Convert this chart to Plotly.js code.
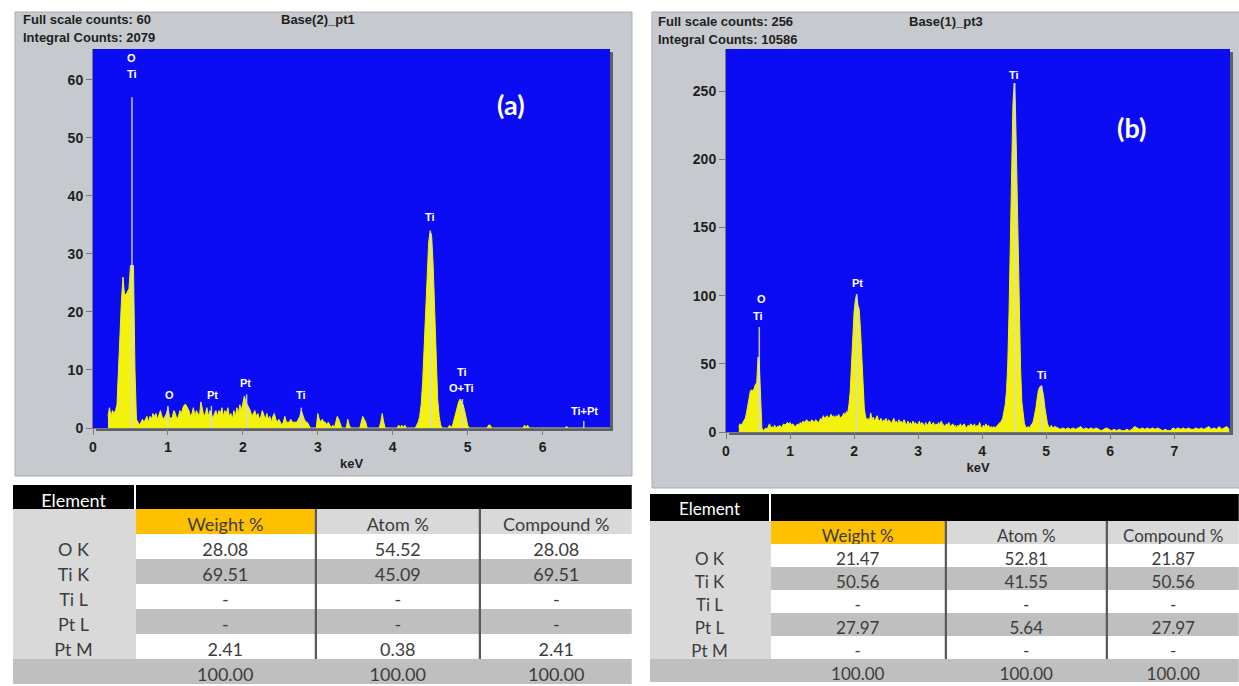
<!DOCTYPE html>
<html>
<head>
<meta charset="utf-8">
<script src="https://cdn.plot.ly/plotly-3.0.1.min.js"></script>
<style>html,body{margin:0;padding:0;background:#fff;}#chart{width:1239px;height:686px;}</style>
</head>
<body>
<div id="chart"></div>
<script>
// ---------------- DATA ----------------
// Spectrum (a): energy in keV, counts
const energyA = [
0.20,0.22,0.24,0.26,0.28,0.30,0.32,0.34,0.36,0.38,
0.40,0.42,0.44,0.46,0.48,0.50,0.52,0.54,0.56,0.58,
0.60,0.62,0.64,0.66,0.68,0.70,0.72,0.74,0.76,0.78,
0.80,0.82,0.84,0.86,0.88,0.90,0.92,0.94,0.96,0.98,
1.00,1.02,1.04,1.06,1.08,1.10,1.12,1.14,1.16,1.18,
1.20,1.22,1.24,1.26,1.28,1.30,1.32,1.34,1.36,1.38,
1.40,1.42,1.44,1.46,1.48,1.50,1.52,1.54,1.56,1.58,
1.60,1.62,1.64,1.66,1.68,1.70,1.72,1.74,1.76,1.78,
1.80,1.82,1.84,1.86,1.88,1.90,1.92,1.94,1.96,1.98,
2.00,2.02,2.04,2.06,2.08,2.10,2.12,2.14,2.16,2.18,
2.20,2.22,2.24,2.26,2.28,2.30,2.32,2.34,2.36,2.38,
2.40,2.42,2.44,2.46,2.48,2.50,2.52,2.54,2.56,2.58,
2.60,2.62,2.64,2.66,2.68,2.70,2.72,2.74,2.76,2.78,
2.80,2.82,2.84,2.86,2.88,2.90,
2.98,3.00,3.02,3.04,3.06,3.08,3.10,3.12,3.14,3.16,3.18,3.20,3.22,3.24,3.26,3.28,3.30,3.32,
3.38,3.40,3.42,3.44,
3.56,3.58,3.60,3.62,3.64,3.66,
3.82,3.84,3.86,3.88,3.90,
4.06,4.08,4.10,4.12,4.14,4.16,4.18,
4.30,4.32,4.34,4.36,4.38,4.40,4.42,4.44,4.46,4.48,4.50,4.52,4.54,4.56,4.58,4.60,4.62,4.64,4.66,
4.74,4.76,4.78,4.80,4.82,4.84,4.86,4.88,4.90,4.92,4.94,4.96,4.98,5.00,5.02,
5.26,5.28,5.30,5.32,
5.74,5.76,5.78,5.80,5.82,
6.30,6.32,6.34,
6.90];
const countsA = [
2,3.5,2,3,2.5,3,4,10,18,22,
26,23,23,23.5,24,28,28,28,10,1.5,
1,0.5,1,1.5,1,1.5,2,1,2,1.5,
2.5,2,2.5,1.5,2.5,3,2,1.5,2,2.5,
3.5,2,1.5,2,3,2.5,1.5,2,3,2.5,
3.5,4,4,3.5,3,2,2.5,3.5,2,3,
2.5,2,4.5,3,2,2.5,3.5,2,3,2.5,
1.5,2.5,3,2,3,2.5,3.5,2,3,2.5,
3.5,2,2.5,1.5,3,2,3.5,2.5,4,3,
4,5.5,4.5,4,3.5,3,2,2.5,3,2,
2.5,1.5,2,3,2,1.5,2.5,1.5,2,1,
2,2.5,1.5,1,1.5,1,0.5,1,2,1,
1,1,1.5,1,1,1,1,1.5,2,3,
2,1.5,1,1,0.5,0,
0,2.5,1.5,1,1.5,1,1,0.5,1,0.5,0,0.5,0,1,2,1.5,0.5,0,
0,1.5,0.5,0,
0,1,2,1.5,1,0,
0,1,2.5,1,0,
0,0.5,0,0.5,0,0.5,0,
0,0.5,1,2,4,8,14,21,27,32,34,33,28,20,11,5,2,0.5,0,
0,0.5,0,0.5,1.5,3,4,4.5,5,4.5,4,3,1.5,0.5,0,
0,0.5,0.5,0,
0,0.5,0,0.5,0,
0,0.3,0,
0];

// Spectrum (b)
const energyB = [
0.20,0.22,0.24,0.26,0.28,0.30,0.32,0.34,0.36,0.38,
0.40,0.42,0.44,0.46,0.48,0.50,0.52,0.54,0.56,0.58,
0.60,0.62,0.64,0.66,0.68,0.70,0.72,0.74,0.76,0.78,
0.80,0.82,0.84,0.86,0.88,0.90,0.92,0.94,0.96,0.98,
1.00,1.02,1.04,1.06,1.08,1.10,1.12,1.14,1.16,1.18,
1.20,1.22,1.24,1.26,1.28,1.30,1.32,1.34,1.36,1.38,
1.40,1.42,1.44,1.46,1.48,1.50,1.52,1.54,1.56,1.58,
1.60,1.62,1.64,1.66,1.68,1.70,1.72,1.74,1.76,1.78,
1.80,1.82,1.84,1.86,1.88,1.90,1.92,1.94,1.96,1.98,
2.00,2.02,2.04,2.06,2.08,2.10,2.12,2.14,2.16,2.18,
2.20,2.22,2.24,2.26,2.28,2.30,2.32,2.34,2.36,2.38,
2.40,2.42,2.44,2.46,2.48,2.50,2.52,2.54,2.56,2.58,
2.60,2.62,2.64,2.66,2.68,2.70,2.72,2.74,2.76,2.78,
2.80,2.82,2.84,2.86,2.88,2.90,2.92,2.94,2.96,2.98,
3.00,3.02,3.04,3.06,3.08,3.10,3.12,3.14,3.16,3.18,
3.20,3.22,3.24,3.26,3.28,3.30,3.32,3.34,3.36,3.38,
3.40,3.42,3.44,3.46,3.48,3.50,3.52,3.54,3.56,3.58,
3.60,3.62,3.64,3.66,3.68,3.70,3.72,3.74,3.76,3.78,
3.80,3.82,3.84,3.86,3.88,3.90,3.92,3.94,3.96,3.98,
4.00,4.02,4.04,4.06,4.08,4.10,4.12,4.14,4.16,4.18,
4.20,4.22,4.24,4.26,4.28,4.30,4.32,4.34,4.36,4.38,
4.40,4.42,4.44,4.46,4.48,4.50,4.52,4.54,4.56,4.58,
4.60,4.62,4.64,4.66,4.68,4.70,4.72,4.74,4.76,4.78,
4.80,4.82,4.84,4.86,4.88,4.90,4.92,4.94,4.96,4.98,
5.00,5.02,5.04,5.06,5.08,5.10,
5.14,5.18,5.22,5.26,5.30,5.34,5.38,5.42,5.46,5.50,
5.54,5.58,5.62,5.66,5.70,5.74,5.78,5.82,5.86,5.90,
5.94,5.98,6.02,6.06,6.10,6.14,6.18,6.22,6.26,6.30,
6.34,6.38,6.42,6.46,6.50,6.54,6.58,6.62,6.66,6.70,
6.74,6.78,6.82,6.86,6.90,6.94,6.98,7.02,7.06,7.10,
7.14,7.18,7.22,7.26,7.30,7.34,7.38,7.42,7.46,7.50,
7.54,7.58,7.62,7.66,7.70,7.74,7.78,7.82,7.86];
const countsB = [
4,6,5,7,8,10,14,20,27,30,
31,30,32,35,36,55,50,20,3,1,
2,3,2,4,6,3,4,3,5,3,
4,4,5,3,5,6,5,6,7,6,
7,5,6,5,4,5,6,5,7,6,
8,7,8,9,7,8,7,9,8,7,
9,8,7,8,10,9,12,10,11,12,
10,11,13,11,12,10,12,11,13,10,
11,12,14,12,15,14,20,30,50,72,
88,97,101,93,90,75,52,30,17,11,
9,10,8,14,9,11,8,10,12,9,
8,10,7,9,8,10,7,9,8,6,
8,10,7,8,6,9,7,8,6,9,
7,5,8,6,7,5,8,6,7,5,
6,8,5,7,6,4,7,5,6,8,
5,6,7,4,6,5,7,5,8,6,
5,4,6,5,7,4,5,6,4,5,
3,5,4,6,4,5,6,4,3,5,
4,6,5,4,6,3,5,4,7,4,
3,5,4,6,4,5,3,4,3,4,
3,4,5,6,7,8,10,14,20,30,
50,88,140,196,240,256,238,192,136,86,
46,22,11,6,4,3,4,3,5,6,
8,12,18,25,31,33,34,31,26,18,
11,6,4,3,5,3,
4,3,2,3,2,3,2,3,2,3,
4,2,3,2,3,2,3,2,1,2,
3,2,1,2,1,2,1,1,2,1,
2,4,3,2,3,2,3,2,3,2,
3,2,1,2,1,1,3,2,3,2,
3,2,3,2,2,3,2,3,2,3,
4,2,3,2,4,2,3,4,2];

// Element marker lines (energy, height) and peak labels
const markerEnergyA = [0.52, 1.00, 1.58, 2.05, 2.78, 4.51, 4.93, 6.55];
const markerTopA    = [57, 3.8, 3.8, 5.8, 3.5, 33.5, 5, 1.2];
const labelTextA = ["O", "Ti", "O", "Pt", "Pt", "Ti", "Ti", "Ti", "O+Ti", "Ti+Pt"];
const labelEA    = [0.52, 0.52, 1.02, 1.60, 2.04, 2.78, 4.50, 4.92, 4.92, 6.56];
const labelYA    = [63.8, 61.0, 5.7, 5.7, 7.8, 5.7, 36.4, 9.7, 6.9, 2.9];

const markerEnergyB = [0.52, 2.04, 4.51, 4.93];
const markerTopB    = [77, 101, 256, 34];
const labelTextB = ["O", "Ti", "Pt", "Ti", "Ti"];
const labelEB    = [0.55, 0.50, 2.05, 4.50, 4.93];
const labelYB    = [97.5, 85, 109, 262, 42];

const tickA = [0, 1, 2, 3, 4, 5, 6];
const tickB = [0, 1, 2, 3, 4, 5, 6, 7];

// Quantification tables
const elementRows = ["", "O K", "Ti K", "Ti L", "Pt L", "Pt M", ""];
const columnHeaders = ["Weight %", "Atom %", "Compound %"];
const weightA   = ["28.08", "69.51", "-", "-", "2.41", "100.00"];
const atomA     = ["54.52", "45.09", "-", "-", "0.38", "100.00"];
const compoundA = ["28.08", "69.51", "-", "-", "2.41", "100.00"];
const weightB   = ["21.47", "50.56", "-", "27.97", "-", "100.00"];
const atomB     = ["52.81", "41.55", "-", "5.64", "-", "100.00"];
const compoundB = ["21.87", "50.56", "-", "27.97", "-", "100.00"];

// ---------------- LAYOUT HELPERS ----------------
const W = 1239, H = 686;
const fx = p => p / W;
const fy = p => 1 - p / H;
const BLUE = '#0b0bf4', YELLOW = '#f2f20c', FRAME = '#c6c9cd';
const tickFont = {family: 'Liberation Sans', size: 14, color: '#1e1e1e', weight: 'bold'};
const hdrFont = {family: 'Liberation Sans', size: 13, color: '#1e1e1e', weight: 'bold'};
const lblFont = {family: 'Liberation Sans', size: 11, color: '#ffffff', weight: 'bold'};

function markerTrace(es, tops, xa, ya) {
  const x = [], y = [];
  es.forEach((e, i) => { x.push(e, e, null); y.push(0, tops[i], null); });
  return {type: 'scatter', mode: 'lines', x, y, xaxis: xa, yaxis: ya,
    line: {color: 'rgba(215,215,235,0.9)', width: 1.5}, hoverinfo: 'skip', showlegend: false};
}
function spectrumTrace(x, y, xa, ya) {
  return {type: 'scatter', mode: 'lines', x, y, xaxis: xa, yaxis: ya, fill: 'tozeroy',
    fillcolor: YELLOW, line: {color: YELLOW, width: 1}, showlegend: false};
}

// Table built of one table trace per column (gaps reveal separator shapes)
function tableTraces(bx, yTop, hh, rh, cols, headers, fontSize) {
  const nRows = elementRows.length;
  const yBot = yTop + hh + rh * nRows + 2;
  const traces = [];
  const g = 0.75;
  for (let i = 0; i < cols.length; i++) {
    const x0 = bx[i] + (i > 0 ? g : 0), x1 = bx[i + 1] - (i < cols.length - 1 ? g : 0);
    let fills;
    if (i === 0) fills = ['#d9d9d9', '#d9d9d9', '#d9d9d9', '#d9d9d9', '#d9d9d9', '#d9d9d9', '#bfbfbf'];
    else fills = [i === 1 ? '#ffc000' : '#d9d9d9', '#ffffff', '#bfbfbf', '#ffffff', '#bfbfbf', '#ffffff', '#bfbfbf'];
    traces.push({
      type: 'table',
      domain: {x: [fx(x0), fx(x1)], y: [fy(yBot), fy(yTop)]},
      header: {values: [headers[i]], fill: {color: '#000000'}, height: hh, line: {width: 0},
        align: 'center', font: {family: 'Lato', size: fontSize, color: '#ffffff'}},
      cells: {values: [cols[i]], fill: {color: [fills]}, height: rh, line: {width: 0},
        align: 'center', font: {family: 'Lato', size: fontSize, color: '#3c3c3c'}}
    });
  }
  return traces;
}
function tableShapes(bx, yTop, hh, rh) {
  const shapes = [];
  const yH = yTop + hh, yBodyEnd = yH + rh * 6, yEnd = yBodyEnd + rh;
  for (let i = 1; i < bx.length - 1; i++) {
    const a = fx(bx[i] - 4), b = fx(bx[i] + 4);
    if (i > 1) shapes.push({type: 'rect', xref: 'paper', yref: 'paper', x0: a, x1: b, y0: fy(yH), y1: fy(yTop), fillcolor: '#000', line: {width: 0}, layer: 'below'});
    shapes.push({type: 'rect', xref: 'paper', yref: 'paper', x0: a, x1: b, y0: fy(yBodyEnd), y1: fy(yH), fillcolor: i > 1 ? '#5a5a5a' : '#d9d9d9', line: {width: 0}, layer: 'below'});
    shapes.push({type: 'rect', xref: 'paper', yref: 'paper', x0: a, x1: b, y0: fy(yEnd), y1: fy(yBodyEnd), fillcolor: '#bfbfbf', line: {width: 0}, layer: 'below'});
  }
  return shapes;
}

// ---------------- TRACES ----------------
const data = [
  spectrumTrace(energyA, countsA, 'x', 'y'),
  markerTrace(markerEnergyA, markerTopA, 'x', 'y'),
  spectrumTrace(energyB, countsB, 'x2', 'y2'),
  markerTrace(markerEnergyB, markerTopB, 'x2', 'y2')
];
const bxA = [13, 135, 316, 480, 632];
const bxB = [650, 770, 946, 1107, 1239];
const colsA = [elementRows, [columnHeaders[0]].concat(weightA), [columnHeaders[1]].concat(atomA), [columnHeaders[2]].concat(compoundA)];
const colsB = [elementRows, [columnHeaders[0]].concat(weightB), [columnHeaders[1]].concat(atomB), [columnHeaders[2]].concat(compoundB)];
tableTraces(bxA, 485, 24, 25, colsA, ['Element', '', '', ''], 18).forEach(t => data.push(t));
tableTraces(bxB, 494, 27, 23, colsB, ['Element', '', '', ''], 17).forEach(t => data.push(t));

// ---------------- LAYOUT ----------------
const rectPx = (x0, y0, x1, y1, fill, line) => ({type: 'rect', xref: 'paper', yref: 'paper',
  x0: fx(x0), x1: fx(x1), y0: fy(y1), y1: fy(y0), fillcolor: fill, line: line || {width: 0}, layer: 'below'});

const shapes = [
  rectPx(15, 12, 632, 476, FRAME, {color: '#a9adb2', width: 1}),
  rectPx(652, 12, 1240, 488, FRAME, {color: '#a9adb2', width: 1}),
  rectPx(96, 52, 613, 431, '#5d6166'),
  rectPx(729, 52, 1233, 435, '#5d6166'),
  rectPx(93, 49, 610, 428, BLUE),
  rectPx(726, 49, 1230, 432, BLUE)
].concat(tableShapes(bxA, 485, 24, 25)).concat(tableShapes(bxB, 494, 27, 23));

const ann = [];
const paperText = (x, y, text, font, xanchor) => ann.push({xref: 'paper', yref: 'paper', x: fx(x), y: fy(y),
  text, showarrow: false, font, xanchor: xanchor || 'left', yanchor: 'middle'});
paperText(21, 20, 'Full scale counts: 60', hdrFont);
paperText(21, 38, 'Integral Counts: 2079', hdrFont);
paperText(279, 20, 'Base(2)_pt1', hdrFont);
paperText(656, 21, 'Full scale counts: 256', hdrFont);
paperText(656, 40, 'Integral Counts: 10586', hdrFont);
paperText(907, 21, 'Base(1)_pt3', hdrFont);
paperText(511, 104, '(a)', {family: 'Lato', size: 27, color: '#ffffff', weight: 'bold'}, 'center');
paperText(1131, 127, '(b)', {family: 'Lato', size: 27, color: '#ffffff', weight: 'bold'}, 'center');
labelTextA.forEach((t, i) => ann.push({xref: 'x', yref: 'y', x: labelEA[i], y: labelYA[i], text: t, showarrow: false, font: lblFont, yanchor: 'middle'}));
labelTextB.forEach((t, i) => ann.push({xref: 'x2', yref: 'y2', x: labelEB[i], y: labelYB[i], text: t, showarrow: false, font: lblFont, yanchor: 'middle'}));

const axisCommon = {showline: true, linecolor: '#7a7a7a', linewidth: 1, ticks: 'outside', ticklen: 6,
  tickcolor: '#7a7a7a', tickfont: tickFont, showgrid: false, zeroline: false, fixedrange: true};

const layout = {
  width: W, height: H, autosize: false,
  margin: {l: 0, r: 0, t: 0, b: 0},
  paper_bgcolor: '#ffffff', plot_bgcolor: BLUE,
  showlegend: false,
  xaxis: Object.assign({}, axisCommon, {domain: [fx(93), fx(610)], range: [0, 6.9], anchor: 'y',
    tickvals: tickA, title: {text: 'keV', font: {family: 'Liberation Sans', size: 13, color: '#1e1e1e', weight: 'bold'}, standoff: 5}}),
  yaxis: Object.assign({}, axisCommon, {domain: [fy(428), fy(49)], range: [0, 65.3], anchor: 'x', dtick: 10}),
  xaxis2: Object.assign({}, axisCommon, {domain: [fx(726), fx(1230)], range: [0, 7.87], anchor: 'y2',
    tickvals: tickB, title: {text: 'keV', font: {family: 'Liberation Sans', size: 13, color: '#1e1e1e', weight: 'bold'}, standoff: 5}}),
  yaxis2: Object.assign({}, axisCommon, {domain: [fy(432), fy(49)], range: [0, 281], anchor: 'x2', dtick: 50}),
  shapes, annotations: ann
};

Plotly.newPlot('chart', data, layout, {displayModeBar: false, staticPlot: true});
</script>
</body>
</html>
